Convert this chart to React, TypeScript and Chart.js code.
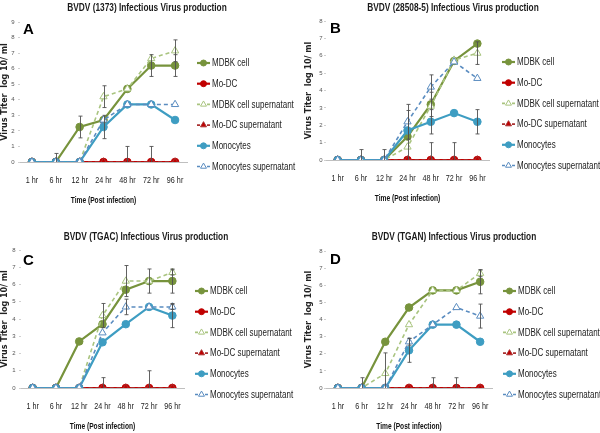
import React, { useEffect, useRef } from "react";
import { Chart, registerables } from "chart.js";

Chart.register(...registerables);

// ---------- DATA ----------
const categories = ["1 hr", "6 hr", "12 hr", "24 hr", "48 hr", "72 hr", "96 hr"];
const seriesNames = [
  "MDBK cell",
  "Mo-DC",
  "MDBK cell supernatant",
  "Mo-DC supernatant",
  "Monocytes",
  "Monocytes supernatant",
];
const yAxisTitle = "Virus Titer  log 10/ ml";
const xAxisTitle = "Time (Post infection)";

// Panel A: BVDV (1373)
const aTitle = "BVDV (1373) Infectious Virus production";
const aMdbk = [0, 0, 2.25, 2.7, 4.7, 6.2, 6.2];
const aModc = [0, 0, 0, 0, 0, 0, 0];
const aMdbkSup = [0, 0, 0, 4.2, 4.7, 6.65, 7.15];
const aModcSup = [0, 0, 0, 0, 0, 0, 0];
const aMono = [0, 0, 0, 2.25, 3.7, 3.7, 2.7];
const aMonoSup = [0, 0, 0, 2.7, 3.7, 3.7, 3.7];
const aMdbkErr = [0, 0.55, 0.7, 0, 0, 0.7, 0.7];
const aModcErr = [0, 0, 0, 0, 0, 0, 0];
const aMdbkSupErr = [0, 0, 0, 0.7, 0, 0, 0.7];
const aModcSupErr = [0, 0, 0, 0, 1, 1, 0];
const aMonoErr = [0, 0, 0, 0.75, 0, 0, 0];
const aMonoSupErr = [0, 0, 0, 0, 0, 0, 0];

// Panel B: BVDV (28508-5)
const bTitle = "BVDV (28508-5) Infectious Virus production";
const bMdbk = [0, 0, 0, 1.35, 3.2, 5.7, 6.7];
const bModc = [0, 0, 0, 0, 0, 0, 0];
const bMdbkSup = [0, 0, 0, 0.75, 3.1, 5.75, 6.15];
const bModcSup = [0, 0, 0, 0, 0, 0, 0];
const bMono = [0, 0, 0, 1.7, 2.2, 2.7, 2.2];
const bMonoSup = [0, 0, 0, 2.2, 4.2, 5.65, 4.7];
const bMdbkErr = [0, 0.6, 0.6, 1.5, 0.7, 0, 0];
const bModcErr = [0, 0, 0, 0, 0, 0, 0];
const bMdbkSupErr = [0, 0, 0, 0, 0, 0, 0.65];
const bModcSupErr = [0, 0, 0, 0, 1, 1, 0];
const bMonoErr = [0, 0, 0, 0, 0.7, 0, 0.7];
const bMonoSupErr = [0, 0, 0, 1.0, 0.7, 0, 0];

// Panel C: BVDV (TGAC)
const cTitle = "BVDV (TGAC) Infectious Virus production";
const cMdbk = [0, 0, 2.7, 3.7, 5.7, 6.2, 6.2];
const cModc = [0, 0, 0, 0, 0, 0, 0];
const cMdbkSup = [0, 0, 0, 4.2, 6.2, 6.2, 6.7];
const cModcSup = [0, 0, 0, 0, 0, 0, 0];
const cMono = [0, 0, 0, 2.65, 3.7, 4.7, 4.2];
const cMonoSup = [0, 0, 0, 3.2, 4.7, 4.7, 4.7];
const cMdbkErr = [0, 0, 0, 0, 0, 0.7, 0.7];
const cModcErr = [0, 0, 0, 0, 0, 0, 0];
const cMdbkSupErr = [0, 0, 0, 0.7, 0.9, 0, 0.15];
const cModcSupErr = [0, 0, 0, 0.6, 0, 1, 0];
const cMonoErr = [0, 0, 0, 0, 0, 0, 0.7];
const cMonoSupErr = [0, 0, 0, 0, 0.45, 0, 0.15];

// Panel D: BVDV (TGAN)
const dTitle = "BVDV (TGAN) Infectious Virus production";
const dMdbk = [0, 0, 2.7, 4.7, 5.7, 5.7, 6.2];
const dModc = [0, 0, 0, 0, 0, 0, 0];
const dMdbkSup = [0, 0, 0.85, 3.7, 5.7, 5.7, 6.7];
const dModcSup = [0, 0, 0, 0, 0, 0, 0];
const dMono = [0, 0, 0, 2.2, 3.7, 3.7, 2.7];
const dMonoSup = [0, 0, 0, 2.7, 3.7, 4.7, 4.2];
const dMdbkErr = [0, 0.6, 0, 0, 0, 0, 0.7];
const dModcErr = [0, 0, 0, 0, 0, 0, 0];
const dMdbkSupErr = [0, 0, 1.2, 0, 0, 0, 0.2];
const dModcSupErr = [0, 0, 0, 0, 0.6, 0.6, 0];
const dMonoErr = [0, 0, 0, 0.7, 0, 0, 0];
const dMonoSupErr = [0, 0, 0, 0.2, 0, 0, 0.7];

// ---------- STYLES ----------
const SANS = '"Liberation Sans", Arial, sans-serif';
const seriesStyle = [
  { color: "#77933C", fill: "#77933C", dash: [] as number[], shape: "circle", width: 2.2 },
  { color: "#C00000", fill: "#C00000", dash: [] as number[], shape: "circle", width: 2.2 },
  { color: "#A9C47F", fill: "#FFFFFF", dash: [4, 3], shape: "triangle", width: 1.6 },
  { color: "#A93030", fill: "#C00000", dash: [4, 3], shape: "triangle", width: 1.6 },
  { color: "#3E9DC2", fill: "#3E9DC2", dash: [] as number[], shape: "circle", width: 2.2 },
  { color: "#5A8CC0", fill: "#FFFFFF", dash: [4, 3], shape: "triangle", width: 1.6 },
];

type PanelCfg = {
  letter: string;
  title: string;
  yMax: number;
  values: number[][];
  errs: number[][];
  x: number; y: number; w: number; h: number;
  left: number; right: number; top: number; bottom: number;
  yTickPad: number; yTitlePad: number;
  titleX: number; titleY: number;
  letterX: number; letterY: number;
  legendX: number; legendY: number;
};

const panels: PanelCfg[] = [
  {
    letter: "A", title: aTitle, yMax: 9,
    values: [aMdbk, aModc, aMdbkSup, aModcSup, aMono, aMonoSup],
    errs: [aMdbkErr, aModcErr, aMdbkSupErr, aModcSupErr, aMonoErr, aMonoSupErr],
    x: 0, y: 0, w: 300, h: 212,
    left: 20, right: 187, top: 22, bottom: 162,
    yTickPad: 3.5, yTitlePad: 0.5,
    titleX: 147, titleY: 8, letterX: 23, letterY: 34, legendX: 197, legendY: 63,
  },
  {
    letter: "B", title: bTitle, yMax: 8,
    values: [bMdbk, bModc, bMdbkSup, bModcSup, bMono, bMonoSup],
    errs: [bMdbkErr, bModcErr, bMdbkSupErr, bModcSupErr, bMonoErr, bMonoSupErr],
    x: 300, y: 0, w: 300, h: 212,
    left: 26, right: 189, top: 21, bottom: 160,
    yTickPad: 1.5, yTitlePad: 4.5,
    titleX: 153, titleY: 8, letterX: 30, letterY: 33, legendX: 202, legendY: 62,
  },
  {
    letter: "C", title: cTitle, yMax: 8,
    values: [cMdbk, cModc, cMdbkSup, cModcSup, cMono, cMonoSup],
    errs: [cMdbkErr, cModcErr, cMdbkSupErr, cModcSupErr, cMonoErr, cMonoSupErr],
    x: 0, y: 225, w: 300, h: 208,
    left: 21, right: 184, top: 25, bottom: 163,
    yTickPad: 3.5, yTitlePad: 0.5,
    titleX: 146, titleY: 12, letterX: 23, letterY: 40, legendX: 195, legendY: 66,
  },
  {
    letter: "D", title: dTitle, yMax: 8,
    values: [dMdbk, dModc, dMdbkSup, dModcSup, dMono, dMonoSup],
    errs: [dMdbkErr, dModcErr, dMdbkSupErr, dModcSupErr, dMonoErr, dMonoSupErr],
    x: 300, y: 225, w: 300, h: 208,
    left: 26, right: 192, top: 26, bottom: 163,
    yTickPad: 1.5, yTitlePad: 4.5,
    titleX: 154, titleY: 12, letterX: 30, letterY: 39, legendX: 203, legendY: 66,
  },
];

function narrowText(
  ctx: CanvasRenderingContext2D, text: string, x: number, y: number,
  font: string, sx: number, align: CanvasTextAlign, color: string
) {
  ctx.save();
  ctx.font = font;
  ctx.fillStyle = color;
  ctx.textBaseline = "middle";
  ctx.textAlign = align;
  ctx.translate(x, y);
  ctx.scale(sx, 1);
  ctx.fillText(text, 0, 0);
  ctx.restore();
}

function drawMarker(ctx: CanvasRenderingContext2D, shape: string, x: number, y: number, r: number, fill: string, stroke: string) {
  ctx.save();
  ctx.setLineDash([]);
  ctx.beginPath();
  if (shape === "circle") {
    ctx.arc(x, y, r, 0, Math.PI * 2);
  } else {
    const s = r * 1.15;
    ctx.moveTo(x, y - s);
    ctx.lineTo(x + s * 0.866, y + s * 0.5);
    ctx.lineTo(x - s * 0.866, y + s * 0.5);
    ctx.closePath();
  }
  ctx.fillStyle = fill;
  ctx.fill();
  ctx.lineWidth = 1;
  ctx.strokeStyle = stroke;
  ctx.stroke();
  ctx.restore();
}

function Panel({ cfg }: { cfg: PanelCfg }) {
  const ref = useRef<HTMLCanvasElement | null>(null);
  useEffect(() => {
    if (!ref.current) return;
    const errorBars = {
      id: "errorBars",
      afterDatasetsDraw(chart: any) {
        const ctx = chart.ctx as CanvasRenderingContext2D;
        const xs = chart.scales.x;
        const ys = chart.scales.y;
        const area = chart.chartArea;
        ctx.save();
        ctx.strokeStyle = "#505050";
        ctx.lineWidth = 0.9;
        ctx.setLineDash([]);
        cfg.errs.forEach((errArr, di) => {
          errArr.forEach((e, i) => {
            if (!e) return;
            const v = cfg.values[di][i];
            const px = Math.round(xs.getPixelForValue(i)) + 0.5;
            const top = ys.getPixelForValue(v + e);
            const lowVal = v - e;
            const bot = Math.min(ys.getPixelForValue(Math.max(lowVal, 0)), area.bottom);
            ctx.beginPath();
            ctx.moveTo(px, top);
            ctx.lineTo(px, bot);
            ctx.moveTo(px - 2, top);
            ctx.lineTo(px + 2, top);
            if (lowVal >= 0) {
              ctx.moveTo(px - 2, bot);
              ctx.lineTo(px + 2, bot);
            }
            ctx.stroke();
          });
        });
        ctx.restore();
      },
    };
    const decor = {
      id: "decor",
      afterDraw(chart: any) {
        const ctx = chart.ctx as CanvasRenderingContext2D;
        const xs = chart.scales.x;
        const area = chart.chartArea;
        // title
        narrowText(ctx, cfg.title, cfg.titleX, cfg.titleY, `bold 10px ${SANS}`, 0.83, "center", "#1a1a1a");
        // panel letter
        ctx.save();
        ctx.font = `bold 15px ${SANS}`;
        ctx.textAlign = "left";
        ctx.textBaseline = "alphabetic";
        ctx.fillStyle = "#000";
        ctx.fillText(cfg.letter, cfg.letterX, cfg.letterY);
        ctx.restore();
        // x tick labels
        categories.forEach((c, i) => {
          narrowText(ctx, c, xs.getPixelForValue(i), area.bottom + 19, `9px ${SANS}`, 0.8, "center", "#222");
        });
        // x axis title
        narrowText(ctx, xAxisTitle, (area.left + area.right) / 2, area.bottom + 38.5, `bold 8.5px ${SANS}`, 0.78, "center", "#111");
        // legend
        seriesNames.forEach((name, i) => {
          const st = seriesStyle[i];
          const y = cfg.legendY + i * 20.7;
          const x0 = cfg.legendX;
          ctx.save();
          ctx.strokeStyle = st.color;
          ctx.lineWidth = st.width;
          ctx.setLineDash(st.dash.length ? [3, 2] : []);
          ctx.beginPath();
          ctx.moveTo(x0, y);
          ctx.lineTo(x0 + 13, y);
          ctx.stroke();
          ctx.restore();
          drawMarker(ctx, st.shape, x0 + 6.5, y, 3, st.fill, st.color);
          narrowText(ctx, name, x0 + 15, y + 0.5, `10px ${SANS}`, 0.8, "left", "#222");
        });
      },
    };
    const datasets = cfg.values.map((vals, i) => {
      const st = seriesStyle[i];
      return {
        label: seriesNames[i],
        data: vals,
        borderColor: st.color,
        backgroundColor: st.fill,
        borderWidth: st.width,
        borderDash: st.dash,
        pointStyle: st.shape,
        pointRadius: st.shape === "circle" ? 3.8 : 4.2,
        pointBorderWidth: 1,
        pointBorderColor: st.color,
        pointBackgroundColor: st.fill,
        tension: 0,
        fill: false,
        order: 5 - i,
      };
    });
    const chart = new Chart(ref.current, {
      type: "line",
      data: { labels: categories, datasets },
      options: {
        animation: false,
        responsive: false,
        maintainAspectRatio: false,
        devicePixelRatio: 1,
        layout: { padding: { left: 0, right: cfg.w - cfg.right, top: cfg.top, bottom: 0 } },
        plugins: {
          legend: { display: false },
          title: { display: false },
          tooltip: { enabled: false },
        },
        scales: {
          x: {
            type: "category",
            offset: true,
            grid: { display: true, drawOnChartArea: false, drawTicks: false, color: "rgba(0,0,0,0)" },
            border: { display: true, color: "#bfbfbf", width: 1 },
            ticks: { display: false },
            title: { display: false },
            afterFit: (s: any) => {
              s.height = cfg.h - cfg.bottom;
            },
          },
          y: {
            min: 0,
            max: cfg.yMax,
            ticks: {
              stepSize: 1,
              font: { family: SANS, size: 6 },
              color: "#555",
              padding: cfg.yTickPad,
            },
            grid: { display: true, drawOnChartArea: false, drawTicks: true, tickLength: 2, color: "#d0d0d0" },
            border: { display: false },
            title: {
              display: true,
              text: yAxisTitle,
              font: { family: '"DejaVu Sans", Verdana, sans-serif', size: 8, weight: "bold" },
              color: "#222",
              padding: { top: cfg.yTitlePad, bottom: 0 },
            },
            afterFit: (s: any) => {
              s.width = cfg.left;
            },
          },
        },
      } as any,
      plugins: [errorBars, decor],
    });
    return () => chart.destroy();
  }, [cfg]);
  return (
    <canvas
      ref={ref}
      width={cfg.w}
      height={cfg.h}
      style={{ position: "absolute", left: cfg.x, top: cfg.y, width: cfg.w, height: cfg.h }}
    />
  );
}

export default function App() {
  return (
    <div style={{ position: "absolute", left: 0, top: 0, width: 600, height: 433, background: "#ffffff" }}>
      {panels.map((p) => (
        <Panel key={p.letter} cfg={p} />
      ))}
    </div>
  );
}
